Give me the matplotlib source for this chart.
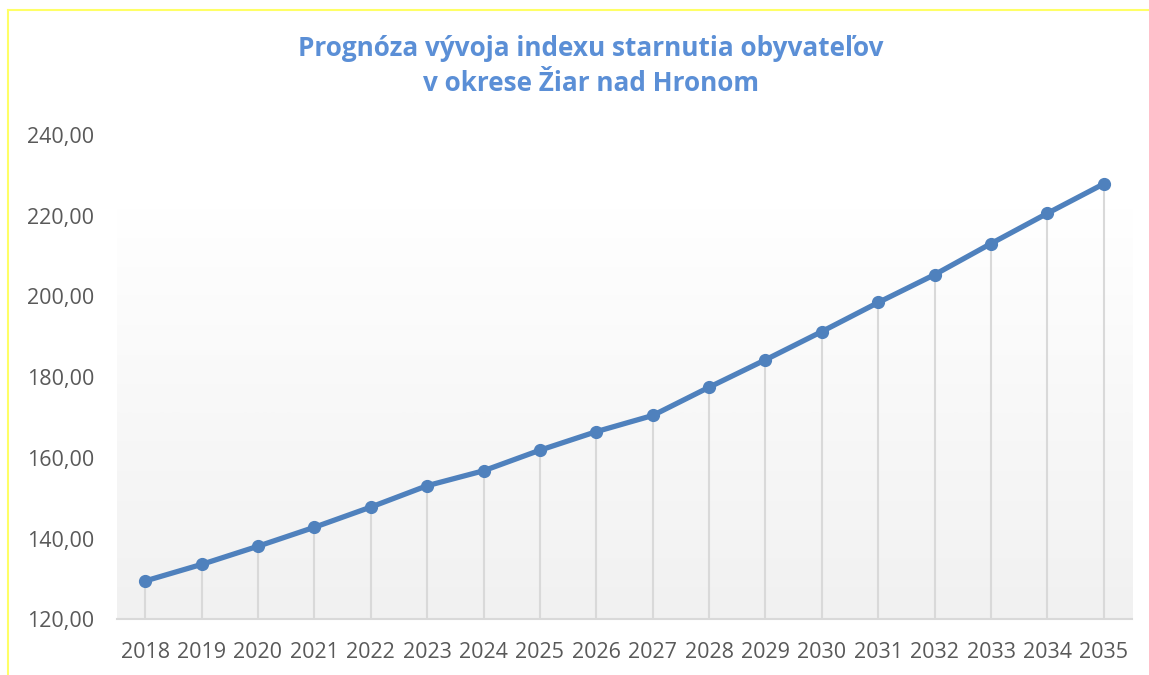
import matplotlib.pyplot as plt
import numpy as np
from matplotlib.lines import Line2D

years = [str(y) for y in range(2018, 2036)]
index_values = [129.5, 133.6, 138.1, 142.8, 147.8, 153.1, 156.8, 161.9, 166.5,
                170.5, 177.5, 184.3, 191.3, 198.5, 205.4, 213.1, 220.6, 227.9]
y_ticks = [120, 140, 160, 180, 200, 220, 240]
y_labels = [f"{t},00" for t in y_ticks]
title = "Prognóza vývoja indexu starnutia obyvateľov\nv okrese Žiar nad Hronom"

line_color = '#4f81bd'
text_color = '#595959'

fig = plt.figure(figsize=(11.49, 6.75), dpi=100)
ax = fig.add_axes([0.1018, 0.0825, 0.8834, 0.7175])

x = np.arange(len(years))
ax.set_xlim(-0.5, len(years) - 0.5)
ax.set_ylim(120, 240)

# plot area gradient: white at top, light grey at the bottom
grad = np.linspace(0, 1, 256).reshape(-1, 1)
grad = np.clip(grad / 0.85, 0, 1)
cmap = plt.matplotlib.colors.LinearSegmentedColormap.from_list('bg', ['#f1f1f1', '#ffffff'])
ax.imshow(grad, aspect='auto', cmap=cmap, origin='lower',
          extent=(-0.5, len(years) - 0.5, 120, 240), zorder=0)

ax.vlines(x, 120, index_values, color='#d9d9d9', lw=1.5, zorder=1)
ax.plot(x, index_values, color=line_color, lw=3.8, marker='o', ms=8.5,
        markerfacecolor=line_color, markeredgecolor=line_color, zorder=3)

ax.set_xticks(x)
ax.set_xticklabels(years)
ax.set_yticks(y_ticks)
ax.set_yticklabels(y_labels)
ax.tick_params(axis='both', length=0, labelsize=15.5, labelcolor=text_color,
               labelfontfamily='Open Sans')
ax.tick_params(axis='x', pad=16)
# put y labels at the left edge of the figure
for lab in ax.get_yticklabels():
    lab.set_horizontalalignment('left')
    lab.set_transform(plt.matplotlib.transforms.blended_transform_factory(fig.transFigure, ax.transData))
    lab.set_x(27 / 1149)

for side in ['top', 'right', 'left']:
    ax.spines[side].set_visible(False)
ax.spines['bottom'].set_color('#d9d9d9')
ax.spines['bottom'].set_linewidth(1.5)

fig.text(0.514, 0.902, title, ha='center', va='center', fontsize=18.8,
         fontweight='bold', color='#5b8fd6', family='Open Sans', linespacing=1.4)

# yellow frame on top and left
fig.add_artist(Line2D([8 / 1149, 8 / 1149], [0, 1 - 10 / 675], transform=fig.transFigure,
                      color='#ffff66', lw=1.5))
fig.add_artist(Line2D([8 / 1149, 1], [1 - 10 / 675, 1 - 10 / 675], transform=fig.transFigure,
                      color='#ffff66', lw=1.5))

fig.savefig('out.png', dpi=100)
